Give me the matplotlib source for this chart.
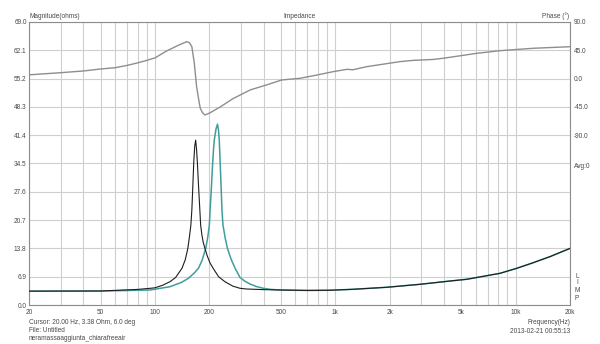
import matplotlib
matplotlib.use("Agg")
import matplotlib.pyplot as plt
from matplotlib.ticker import FixedLocator, NullFormatter

# Impedance magnitude, original driver (black)
black_freq = [20, 50, 80, 94, 100, 110, 121, 130, 141, 147, 152, 155, 158,
              160, 162, 164, 166, 168, 170, 172, 174, 176, 177.5, 179, 182,
              185, 189, 195, 202, 210, 225, 244, 270, 296, 322, 400, 493, 700,
              934, 1254, 1928, 2950, 4326, 5354, 8190, 10140, 12480, 15500,
              20000]
black_ohm = [3.38, 3.42, 3.8, 4.07, 4.2, 4.8, 5.68, 6.7, 8.95, 11.0, 13.8,
             16.5, 19.5, 23.2, 29.0, 35.0, 38.8, 40.2, 37.8, 34.1, 29.5, 25.5,
             22.5, 19.5, 17.0, 15.3, 13.8, 11.9, 10.2, 8.95, 6.9, 5.68, 4.6,
             4.07, 3.9, 3.75, 3.66, 3.55, 3.6, 3.83, 4.32, 5.05, 5.85, 6.27,
             7.73, 8.95, 10.3, 11.8, 13.8]

# Impedance magnitude, added mass (teal)
teal_freq = [20, 50, 94, 121, 140, 153, 165, 174, 182, 191, 196, 200, 202,
             205, 208, 211, 213, 218, 222, 225, 227, 230, 233, 235, 238, 245,
             252, 265, 278, 296, 315, 336, 365, 399, 440, 493, 700, 934, 1254,
             1928, 2950, 4326, 5354, 8190, 10140, 12480, 15500, 20000]
teal_ohm = [3.38, 3.4, 3.66, 4.46, 5.5, 6.5, 7.8, 8.95, 10.8, 13.8, 16.5,
            19.5, 23.2, 28.0, 33.5, 38.0, 40.2, 43.0, 44.1, 42.5, 40.2, 34.0,
            27.5, 23.2, 19.5, 16.3, 13.8, 11.0, 8.95, 6.7, 5.8, 5.12, 4.5,
            4.07, 3.8, 3.66, 3.55, 3.6, 3.83, 4.32, 5.05, 5.85, 6.27, 7.73,
            8.95, 10.3, 11.8, 13.8]

# Phase (degrees)
phase_freq = [20, 30, 40, 50, 60, 70, 80, 90, 100, 116, 137, 150, 155, 160,
              165, 170, 175, 178, 183, 189, 200, 230, 270, 337, 416, 504, 637,
              800, 971, 1161, 1250, 1493, 2285, 2700, 3014, 3500, 3956, 6082,
              8189, 12477, 20000]
phase_deg = [6.0, 9.4, 12.1, 15.3, 17.3, 21.0, 25.0, 29.0, 33.0, 44.0, 54.0,
             58.7, 57.0, 50.7, 25.0, -12.9, -35.0, -46.7, -54.0, -57.9, -55.0,
             -45.0, -32.0, -18.0, -10.0, -2.2, 0.5, 6.0, 11.0, 14.8, 14.0,
             19.0, 27.0, 29.0, 29.6, 30.5, 32.3, 40.2, 44.4, 48.2, 50.7]

mag_ticks = [0.0, 6.9, 13.8, 20.7, 27.6, 34.5, 41.4, 48.3, 55.2, 62.1, 69.0]
phase_ticks = [90, 45, 0, -45, -90]
freq_ticks = [20, 50, 100, 200, 500, 1000, 2000, 5000, 10000, 20000]
freq_labels = ["20", "50", "100", "200", "500", "1k", "2k", "5k", "10k", "20k"]
grid_freqs = [30, 40, 60, 70, 80, 90, 300, 400, 600, 700, 800, 900,
              3000, 4000, 6000, 7000, 8000, 9000]

plt.rcParams["font.family"] = ["Liberation Sans", "DejaVu Sans"]
FS = 4.7
TXT = "#484848"
GRID = "#cfcfcf"
W, H = 600, 344

fig = plt.figure(figsize=(6.0, 3.44), dpi=100)
ax = fig.add_axes([29 / W, 1 - 305 / H, 541 / W, 283 / H])

ax.set_xscale("log")
ax.set_xlim(20, 20000)
ax.set_ylim(0, 69.0)
ax.xaxis.set_major_locator(FixedLocator(freq_ticks))
ax.xaxis.set_minor_locator(FixedLocator(grid_freqs))
ax.xaxis.set_minor_formatter(NullFormatter())
ax.set_xticklabels(freq_labels)
ax.set_yticks(mag_ticks)
ax.set_yticklabels([f"{v:.1f}" for v in mag_ticks])
ax.grid(True, which="both", color=GRID, linewidth=0.8)
ax.set_axisbelow(True)
ax.tick_params(which="both", length=0, labelsize=FS, labelcolor=TXT)
ax.tick_params(axis="y", pad=1.7)
ax.tick_params(axis="x", pad=3.2)
for s in ax.spines.values():
    s.set_color("#8c8c8c")
    s.set_linewidth(0.8)

# phase on the right-hand scale
ax2 = ax.twinx()
ax2.set_ylim(-360, 90)
ax2.set_yticks(phase_ticks)
ax2.set_yticklabels([f"{v:.1f}" for v in phase_ticks])
ax2.tick_params(length=0, labelsize=FS, labelcolor=TXT, pad=2.9)
for s in ax2.spines.values():
    s.set_visible(False)
ax2.plot(phase_freq, phase_deg, color="#8e8e8e", linewidth=1.0)

ax.plot(teal_freq, teal_ohm, color="#3f9e9a", linewidth=1.1, zorder=3)
ax.plot(black_freq, black_ohm, color="#1e1e1e", linewidth=0.8, zorder=4)


def ftext(x, y, s, **kw):
    fig.text(x / W, 1 - y / H, s, fontsize=FS, color=TXT, va="center", **kw)


ftext(30, 16.5, "Magnitude(ohms)", ha="left")
ftext(299, 16.5, "Impedance", ha="center")
ftext(569, 16.5, "Phase (°)", ha="right")
ftext(574, 167, "Avg:0", ha="left")
for ch, yy in zip("LIMP", [276, 283, 291, 298]):
    ftext(577, yy, ch, ha="center")
ftext(29, 322, "Cursor: 20.00 Hz, 3.38 Ohm, 6.0 deg", ha="left")
ftext(29, 331, "File: Untitled", ha="left")
ftext(29, 339, "neramassaaggiunta_chiarafreeair", ha="left")
ftext(570, 322, "Frequency(Hz)", ha="right")
ftext(570, 331.5, "2013-02-21 00:55:13", ha="right")

fig.savefig("out.png", dpi=100, facecolor="white")
